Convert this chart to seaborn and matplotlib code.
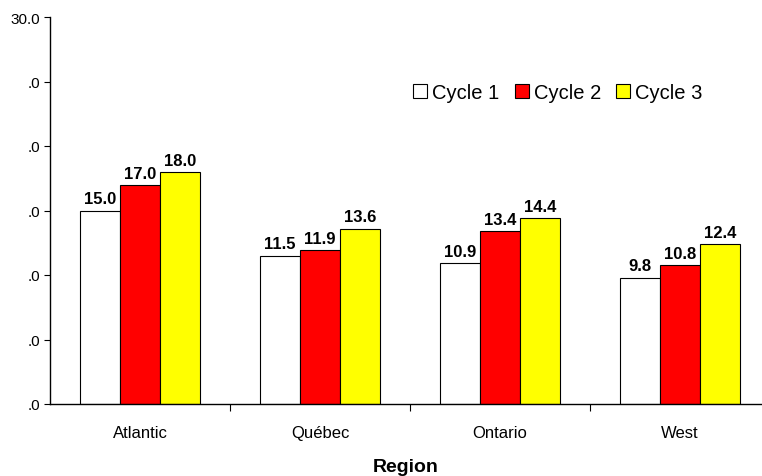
import matplotlib
matplotlib.use("Agg")
import matplotlib.pyplot as plt
from matplotlib.ticker import FixedLocator
import seaborn as sns
import pandas as pd

regions = ["Atlantic", "Québec", "Ontario", "West"]
cycles = ["Cycle 1", "Cycle 2", "Cycle 3"]
cycle1 = [15.0, 11.5, 10.9, 9.8]
cycle2 = [17.0, 11.9, 13.4, 10.8]
cycle3 = [18.0, 13.6, 14.4, 12.4]
ytick_vals = [0, 5, 10, 15, 20, 25, 30]
ytick_labels = [".0", ".0", ".0", ".0", ".0", ".0", "30.0"]

df = pd.DataFrame({
    "Region": regions * 3,
    "Cycle": [c for c in cycles for _ in regions],
    "Value": cycle1 + cycle2 + cycle3,
})

sns.set_style("white")
plt.rcParams["font.family"] = ["Liberation Sans", "DejaVu Sans"]
plt.rcParams["text.color"] = "black"
plt.rcParams["axes.labelcolor"] = "black"
plt.rcParams["xtick.color"] = "black"
plt.rcParams["ytick.color"] = "black"

fig = plt.figure(figsize=(7.62, 4.77), dpi=100)
ax = fig.add_axes([50 / 762, 72 / 477, 712 / 762, 387 / 477])

palette = {"Cycle 1": "#ffffff", "Cycle 2": "#ff0000", "Cycle 3": "#ffff00"}
sns.barplot(data=df, x="Region", y="Value", hue="Cycle", order=regions,
            hue_order=cycles, palette=palette, width=2 / 3, saturation=1,
            edgecolor="black", linewidth=0.8, errorbar=None, ax=ax)

for cont in ax.containers:
    ax.bar_label(cont, fmt="%.1f", padding=3, fontsize=12, fontweight="bold")

ax.set_ylim(0, 30)
ax.set_xlim(-0.5, -0.5 + 712 / 180)
ax.set_yticks(ytick_vals)
ax.set_yticklabels(ytick_labels, fontsize=11)
ax.tick_params(axis="y", left=True, direction="out", length=4, width=0.8,
               color="black", pad=3)
ax.tick_params(axis="x", which="major", length=0, labelsize=12, pad=15)
ax.xaxis.set_minor_locator(FixedLocator([0.5, 1.5, 2.5]))
ax.tick_params(axis="x", which="minor", direction="out", length=5, width=0.8,
               color="black", bottom=True)

for s in ["top", "right"]:
    ax.spines[s].set_visible(False)
for s in ["left", "bottom"]:
    ax.spines[s].set_color("black")
    ax.spines[s].set_linewidth(1.0)

ax.set_xlabel("Region", fontsize=14, fontweight="bold", labelpad=13)
ax.set_ylabel("")

ax.legend(loc="upper left", bbox_to_anchor=(355 / 712, 0.85), ncol=3, frameon=False,
          fontsize=14.5, handlelength=0.7, handleheight=0.7, handletextpad=0.25,
          columnspacing=0.75, borderaxespad=0)

fig.savefig("out.png", dpi=100)
